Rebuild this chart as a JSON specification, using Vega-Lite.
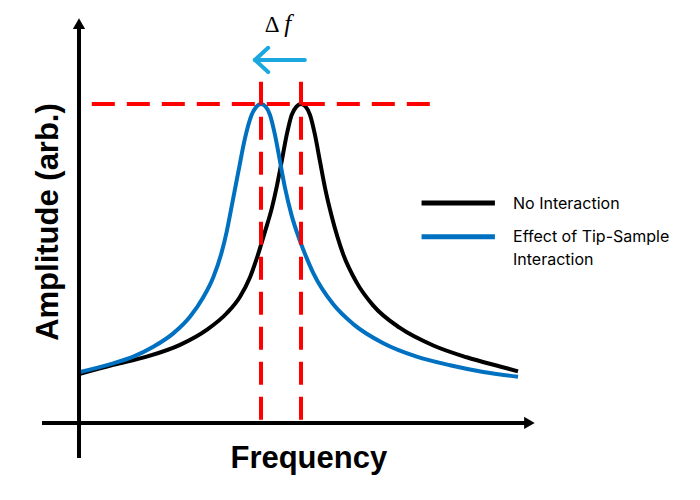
{
  "$schema": "https://vega.github.io/schema/vega-lite/v6.json",
  "width": 700,
  "height": 500,
  "autosize": {"type": "fit", "contains": "padding"},
  "padding": 0,
  "background": "white",
  "config": {"view": {"stroke": null}},
  "datasets": {
    "curves": [
      {"series": "No Interaction", "f": 0.023, "A": 0.154},
      {"series": "No Interaction", "f": 0.776, "A": 0.182},
      {"series": "No Interaction", "f": 1.532, "A": 0.208},
      {"series": "No Interaction", "f": 2.285, "A": 0.245},
      {"series": "No Interaction", "f": 2.889, "A": 0.292},
      {"series": "No Interaction", "f": 3.342, "A": 0.344},
      {"series": "No Interaction", "f": 3.643, "A": 0.396},
      {"series": "No Interaction", "f": 3.869, "A": 0.457},
      {"series": "No Interaction", "f": 4.020, "A": 0.515},
      {"series": "No Interaction", "f": 4.208, "A": 0.600},
      {"series": "No Interaction", "f": 4.360, "A": 0.672},
      {"series": "No Interaction", "f": 4.473, "A": 0.740},
      {"series": "No Interaction", "f": 4.586, "A": 0.820},
      {"series": "No Interaction", "f": 4.699, "A": 0.903},
      {"series": "No Interaction", "f": 4.812, "A": 0.966},
      {"series": "No Interaction", "f": 4.920, "A": 0.992},
      {"series": "No Interaction", "f": 5.023, "A": 1.000},
      {"series": "No Interaction", "f": 5.125, "A": 0.992},
      {"series": "No Interaction", "f": 5.226, "A": 0.966},
      {"series": "No Interaction", "f": 5.339, "A": 0.903},
      {"series": "No Interaction", "f": 5.452, "A": 0.820},
      {"series": "No Interaction", "f": 5.566, "A": 0.737},
      {"series": "No Interaction", "f": 5.717, "A": 0.648},
      {"series": "No Interaction", "f": 5.980, "A": 0.528},
      {"series": "No Interaction", "f": 6.283, "A": 0.440},
      {"series": "No Interaction", "f": 6.658, "A": 0.368},
      {"series": "No Interaction", "f": 7.262, "A": 0.298},
      {"series": "No Interaction", "f": 8.016, "A": 0.243},
      {"series": "No Interaction", "f": 8.771, "A": 0.206},
      {"series": "No Interaction", "f": 9.525, "A": 0.177},
      {"series": "No Interaction", "f": 9.932, "A": 0.162},
      {"series": "Tip-Sample", "f": 0.023, "A": 0.160},
      {"series": "Tip-Sample", "f": 0.776, "A": 0.187},
      {"series": "Tip-Sample", "f": 1.229, "A": 0.208},
      {"series": "Tip-Sample", "f": 1.681, "A": 0.239},
      {"series": "Tip-Sample", "f": 2.133, "A": 0.281},
      {"series": "Tip-Sample", "f": 2.511, "A": 0.333},
      {"series": "Tip-Sample", "f": 2.812, "A": 0.394},
      {"series": "Tip-Sample", "f": 3.038, "A": 0.457},
      {"series": "Tip-Sample", "f": 3.228, "A": 0.535},
      {"series": "Tip-Sample", "f": 3.342, "A": 0.600},
      {"series": "Tip-Sample", "f": 3.455, "A": 0.680},
      {"series": "Tip-Sample", "f": 3.604, "A": 0.787},
      {"series": "Tip-Sample", "f": 3.756, "A": 0.893},
      {"series": "Tip-Sample", "f": 3.907, "A": 0.966},
      {"series": "Tip-Sample", "f": 4.015, "A": 0.992},
      {"series": "Tip-Sample", "f": 4.118, "A": 1.000},
      {"series": "Tip-Sample", "f": 4.220, "A": 0.992},
      {"series": "Tip-Sample", "f": 4.321, "A": 0.966},
      {"series": "Tip-Sample", "f": 4.434, "A": 0.903},
      {"series": "Tip-Sample", "f": 4.548, "A": 0.820},
      {"series": "Tip-Sample", "f": 4.661, "A": 0.737},
      {"series": "Tip-Sample", "f": 4.812, "A": 0.650},
      {"series": "Tip-Sample", "f": 4.962, "A": 0.585},
      {"series": "Tip-Sample", "f": 5.113, "A": 0.530},
      {"series": "Tip-Sample", "f": 5.301, "A": 0.470},
      {"series": "Tip-Sample", "f": 5.753, "A": 0.372},
      {"series": "Tip-Sample", "f": 6.206, "A": 0.310},
      {"series": "Tip-Sample", "f": 6.885, "A": 0.250},
      {"series": "Tip-Sample", "f": 7.640, "A": 0.208},
      {"series": "Tip-Sample", "f": 8.394, "A": 0.181},
      {"series": "Tip-Sample", "f": 9.147, "A": 0.160},
      {"series": "Tip-Sample", "f": 9.932, "A": 0.145}
    ],
    "axesLines": [
      {"x": 0, "x2": 0, "y": -0.110, "y2": 1.245},
      {"x": -0.837, "x2": 10.15, "y": 0, "y2": 0}
    ],
    "arrowUp": [{"x": 0, "y": 1.252}],
    "arrowRight": [{"x": 10.19, "y": 0}],
    "redLines": [
      {"x": 0.29, "x2": 7.94, "y": 1.0, "y2": 1.0},
      {"x": 4.118, "x2": 4.118, "y": 0.01, "y2": 1.075},
      {"x": 5.023, "x2": 5.023, "y": 0.01, "y2": 1.075}
    ],
    "cyanArrow": [
      {"x": 3.98, "x2": 5.11, "y": 1.138, "y2": 1.138},
      {"x": 3.98, "x2": 4.28, "y": 1.138, "y2": 1.176},
      {"x": 3.98, "x2": 4.28, "y": 1.138, "y2": 1.100}
    ],
    "legendLines": [
      {"series": "No Interaction", "x": 7.75, "x2": 9.41, "y": 0.690},
      {"series": "Tip-Sample", "x": 7.75, "x2": 9.41, "y": 0.584}
    ],
    "legendText": [
      {"text": "No Interaction", "x": 9.82, "y": 0.688},
      {"text": "Effect of Tip-Sample", "x": 9.82, "y": 0.584},
      {"text": "Interaction", "x": 9.82, "y": 0.512}
    ]
  },
  "encoding": {},
  "layer": [
    {
      "data": {"name": "curves"},
      "mark": {"type": "line", "strokeWidth": 4, "interpolate": "monotone"},
      "encoding": {
        "x": {"field": "f", "type": "quantitative", "scale": {"domain": [-1.7873, 14.0498], "nice": false, "zero": false}, "axis": null},
        "y": {"field": "A", "type": "quantitative", "scale": {"domain": [-0.2414, 1.3260], "nice": false, "zero": false}, "axis": null},
        "color": {"field": "series", "type": "nominal", "scale": {"domain": ["No Interaction", "Tip-Sample"], "range": ["#000000", "#0070C0"]}, "legend": null},
        "order": {"field": "f", "type": "quantitative"}
      }
    },
    {
      "data": {"name": "legendLines"},
      "mark": {"type": "rule", "strokeWidth": 5},
      "encoding": {
        "x": {"field": "x", "type": "quantitative"},
        "x2": {"field": "x2"},
        "y": {"field": "y", "type": "quantitative"},
        "color": {"field": "series", "type": "nominal", "legend": null}
      }
    },
    {
      "data": {"name": "redLines"},
      "mark": {"type": "rule", "strokeWidth": 4, "color": "#FF0000", "strokeDash": [23, 12]},
      "encoding": {
        "x": {"field": "x", "type": "quantitative"},
        "x2": {"field": "x2"},
        "y": {"field": "y", "type": "quantitative"},
        "y2": {"field": "y2"}
      }
    },
    {
      "data": {"name": "axesLines"},
      "mark": {"type": "rule", "strokeWidth": 4, "color": "#000000"},
      "encoding": {
        "x": {"field": "x", "type": "quantitative"},
        "x2": {"field": "x2"},
        "y": {"field": "y", "type": "quantitative"},
        "y2": {"field": "y2"}
      }
    },
    {
      "data": {"name": "arrowUp"},
      "mark": {"type": "point", "shape": "triangle-up", "filled": true, "size": 150, "color": "#000000", "opacity": 1},
      "encoding": {
        "x": {"field": "x", "type": "quantitative"},
        "y": {"field": "y", "type": "quantitative"}
      }
    },
    {
      "data": {"name": "arrowRight"},
      "mark": {"type": "point", "shape": "triangle-right", "filled": true, "size": 150, "color": "#000000", "opacity": 1},
      "encoding": {
        "x": {"field": "x", "type": "quantitative"},
        "y": {"field": "y", "type": "quantitative"}
      }
    },
    {
      "data": {"name": "cyanArrow"},
      "mark": {"type": "rule", "strokeWidth": 4, "color": "#1BA8E0", "strokeCap": "round"},
      "encoding": {
        "x": {"field": "x", "type": "quantitative"},
        "x2": {"field": "x2"},
        "y": {"field": "y", "type": "quantitative"},
        "y2": {"field": "y2"}
      }
    },
    {
      "data": {"name": "legendText"},
      "mark": {"type": "text", "align": "left", "baseline": "middle", "font": "Inter", "fontSize": 16, "color": "#000000"},
      "encoding": {
        "x": {"field": "x", "type": "quantitative"},
        "y": {"field": "y", "type": "quantitative"},
        "text": {"field": "text"}
      }
    },
    {
      "data": {"values": [{"text": "Δ", "x": 4.37, "y": 1.226}]},
      "mark": {"type": "text", "align": "center", "baseline": "alphabetic", "font": "Liberation Serif", "fontSize": 23, "color": "#000000"},
      "encoding": {
        "x": {"field": "x", "type": "quantitative"},
        "y": {"field": "y", "type": "quantitative"},
        "text": {"field": "text"}
      }
    },
    {
      "data": {"values": [{"text": "f", "x": 4.72, "y": 1.226}]},
      "mark": {"type": "text", "align": "center", "baseline": "alphabetic", "font": "Liberation Serif", "fontStyle": "italic", "fontSize": 25, "color": "#000000"},
      "encoding": {
        "x": {"field": "x", "type": "quantitative"},
        "y": {"field": "y", "type": "quantitative"},
        "text": {"field": "text"}
      }
    },
    {
      "data": {"values": [{"text": "Frequency", "x": 5.20, "y": -0.141}]},
      "mark": {"type": "text", "align": "center", "baseline": "alphabetic", "font": "Liberation Sans", "fontWeight": "bold", "fontSize": 31, "color": "#000000"},
      "encoding": {
        "x": {"field": "x", "type": "quantitative"},
        "y": {"field": "y", "type": "quantitative"},
        "text": {"field": "text"}
      }
    },
    {
      "data": {"values": [{"text": "Amplitude (arb.)", "x": -0.475, "y": 0.630}]},
      "mark": {"type": "text", "align": "center", "baseline": "alphabetic", "angle": 270, "font": "Liberation Sans", "fontWeight": "bold", "fontSize": 31, "color": "#000000"},
      "encoding": {
        "x": {"field": "x", "type": "quantitative"},
        "y": {"field": "y", "type": "quantitative"},
        "text": {"field": "text"}
      }
    }
  ]
}
